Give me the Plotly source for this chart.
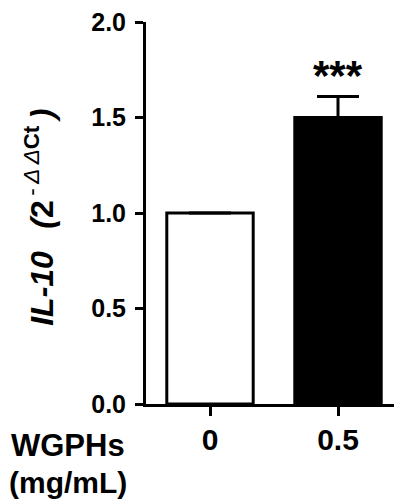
import plotly.graph_objects as go

categories = ["0", "0.5"]
values = [1.0, 1.5]
errors = [0.0, 0.11]
bar_colors = ["white", "black"]
sig_labels = ["", "***"]
y_ticks = [0.0, 0.5, 1.0, 1.5, 2.0]
y_ticklabels = ["0.0", "0.5", "1.0", "1.5", "2.0"]

FONT = "Liberation Sans, Arial, sans-serif"

fig = go.Figure()
fig.add_trace(go.Bar(
    x=[0, 1], y=values,
    width=0.675,
    marker=dict(color=bar_colors, line=dict(color="black", width=3)),
    error_y=dict(type="data", array=errors, visible=True, color="black",
                 thickness=3, width=21),
))

for i, s in enumerate(sig_labels):
    if s:
        fig.add_annotation(x=i, y=values[i] + errors[i], yshift=21, text="<b>" + s + "</b>",
                           showarrow=False, font=dict(family=FONT, size=42, color="black"),
                           xanchor="center", yanchor="middle")

fig.add_annotation(xref="paper", yref="paper", x=-0.303, y=-0.108,
                   text="<b>WGPHs</b>", showarrow=False,
                   font=dict(family=FONT, size=31, color="black"),
                   xanchor="center", yanchor="middle")
fig.add_annotation(xref="paper", yref="paper", x=-0.303, y=-0.205,
                   text="<b>(mg/mL)</b>", showarrow=False,
                   font=dict(family=FONT, size=30, color="black"),
                   xanchor="center", yanchor="middle")

title_text = ("<b><i>IL-10</i></b>\u2002\u2009<b><i>(</i>2</b>"
              "<sup>\u2009-\u2009<i>\u0394</i>\u2009<i>\u0394</i><b>Ct</b></sup>"
              "\u2009<b><i>)</i></b>")
fig.add_annotation(xref="paper", yref="paper", x=-0.418, y=0.49,
                   text=title_text,
                   textangle=-90, showarrow=False,
                   font=dict(family=FONT, size=32, color="black"),
                   xanchor="center", yanchor="middle")

fig.update_layout(
    width=394, height=496,
    margin=dict(l=138, r=0, t=12, b=100),
    paper_bgcolor="white", plot_bgcolor="white",
    showlegend=False,
    font=dict(family=FONT, color="black"),
    xaxis=dict(
        range=[-0.5, 1.5], tickmode="array", tickvals=[0, 1], ticktext=categories,
        showline=True, linecolor="black", linewidth=3,
        ticks="outside", ticklen=9, tickwidth=3, tickcolor="black",
        tickfont=dict(family=FONT, size=30, color="black", weight="bold"),
        ticklabelstandoff=-2,
        showgrid=False, zeroline=False, fixedrange=True,
    ),
    yaxis=dict(
        range=[0, 2.0], tickmode="array", tickvals=y_ticks, ticktext=y_ticklabels,
        showline=True, linecolor="black", linewidth=3,
        ticks="outside", ticklen=8, tickwidth=3, tickcolor="black",
        tickfont=dict(family=FONT, size=25, color="black", weight="bold"),
        ticklabelstandoff=4, ticklabeloverflow="allow",
        showgrid=False, zeroline=False, fixedrange=True,
    ),
)

fig.write_html("out.html")
